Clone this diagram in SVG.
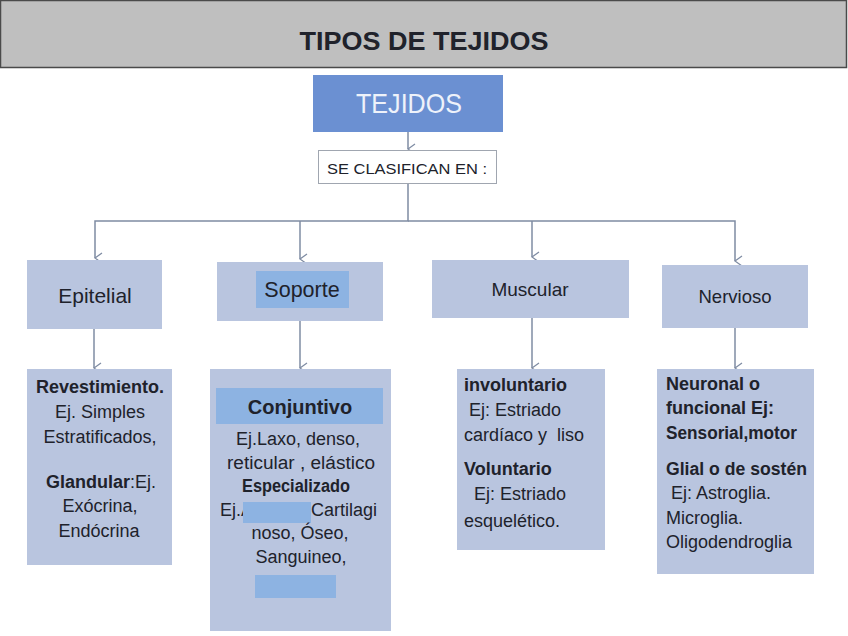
<svg xmlns="http://www.w3.org/2000/svg" width="848" height="636" viewBox="0 0 848 636">
<defs>
<marker id="arr" markerWidth="12" markerHeight="10" refX="6" refY="9" orient="auto" markerUnits="userSpaceOnUse" viewBox="0 0 12 10">
<path d="M1,2 L6,9 L11,2" fill="none" stroke="#7f8ca3" stroke-width="1.3"/>
</marker>
</defs>
<style>
.box{fill:#b9c5df;}
.t{font-family:"Liberation Sans",Arial,sans-serif;fill:#20222b;white-space:pre;}
.c{text-anchor:middle;}
.b{font-weight:bold;}
.r{font-size:18px;}
.bb{font-size:18px;font-weight:bold;}
.hl{fill:#8db3e2;}
.ln{fill:none;stroke:#7f8ca3;stroke-width:1.5;}
</style>
<rect width="848" height="636" fill="#ffffff"/>
<g id="header">
<rect x="0.5" y="0.5" width="846" height="67" fill="#bfbfbf" stroke="#4a4a4a" stroke-width="1.5"/>
<text x="424" y="50" class="t c b" font-size="26" fill="#000" textLength="249" lengthAdjust="spacingAndGlyphs">TIPOS DE TEJIDOS</text>
</g>
<g id="connectors">
<path class="ln" d="M408,132 V149" marker-end="url(#arr)"/>
<path class="ln" d="M408,183 V221 H95 V258" marker-end="url(#arr)"/>
<path class="ln" d="M300,221 V259" marker-end="url(#arr)"/>
<path class="ln" d="M408,221 H735 V261" marker-end="url(#arr)"/>
<path class="ln" d="M532,221 V257" marker-end="url(#arr)"/>
<path class="ln" d="M94,329 V368" marker-end="url(#arr)"/>
<path class="ln" d="M300,321 V368" marker-end="url(#arr)"/>
<path class="ln" d="M532,318 V368" marker-end="url(#arr)"/>
<path class="ln" d="M735,328 V368" marker-end="url(#arr)"/>
</g>
<g id="tejidos">
<rect x="313" y="75" width="190" height="57" fill="#6b90d2"/>
<text x="409" y="113" class="t c" font-size="28" style="fill:#eef2fa" textLength="106" lengthAdjust="spacingAndGlyphs">TEJIDOS</text>
</g>
<g id="clasifican">
<rect x="318.5" y="150.5" width="178" height="33" fill="#ffffff" stroke="#a0a6b0" stroke-width="1"/>
<text x="407" y="174" class="t c" font-size="15" textLength="160" lengthAdjust="spacingAndGlyphs">SE CLASIFICAN EN :</text>
</g>
<g id="epitelial">
<rect class="box" x="27" y="260" width="135" height="69"/>
<text x="95" y="303" class="t c" font-size="21">Epitelial</text>
</g>
<g id="soporte">
<rect class="box" x="217" y="262" width="166" height="59"/>
<rect class="hl" x="256" y="271" width="93" height="37"/>
<text x="302" y="297" class="t c" font-size="21.5">Soporte</text>
</g>
<g id="muscular">
<rect class="box" x="432" y="260" width="197" height="58"/>
<text x="530" y="296" class="t c" font-size="19">Muscular</text>
</g>
<g id="nervioso">
<rect class="box" x="662" y="265" width="146" height="63"/>
<text x="735" y="303" class="t c" font-size="18.5">Nervioso</text>
</g>
<g id="epitelial-detalle">
<rect class="box" x="27" y="369" width="145" height="196"/>
<text class="t c bb" x="100" y="393">Revestimiento.</text>
<text class="t c r" x="100" y="418">Ej. Simples</text>
<text class="t c r" x="100" y="443">Estratificados,</text>
<text class="t c r" x="101" y="488"><tspan class="bb">Glandular</tspan>:Ej.</text>
<text class="t c r" x="100" y="512">Exócrina,</text>
<text class="t c r" x="99" y="537">Endócrina</text>
</g>
<g id="soporte-detalle">
<rect class="box" x="210" y="369" width="181" height="262"/>
<rect class="hl" x="216" y="388" width="167" height="36"/>
<text class="t c b" font-size="20" x="300" y="414">Conjuntivo</text>
<text class="t c r" x="298" y="445">Ej.Laxo, denso,</text>
<text class="t c r" x="301" y="469" textLength="148" lengthAdjust="spacingAndGlyphs">reticular , elástico</text>
<text class="t c bb" x="296" y="492" textLength="108" lengthAdjust="spacingAndGlyphs">Especializado</text>
<text class="t r" x="220" y="516">Ej.A</text>
<text class="t r" x="311" y="516">Cartilagi</text>
<rect class="hl" x="243" y="502" width="68" height="21"/>
<text class="t c r" x="300" y="539">noso, Óseo,</text>
<text class="t c r" x="301" y="563">Sanguineo,</text>
<rect class="hl" x="255" y="575" width="81" height="23"/>
</g>
<g id="muscular-detalle">
<rect class="box" x="457" y="369" width="148" height="181"/>
<text class="t bb" x="464" y="391">involuntario</text>
<text class="t r" x="464" y="416"> Ej: Estriado</text>
<text class="t r" x="464" y="441">cardíaco y  liso</text>
<text class="t bb" x="464" y="475">Voluntario</text>
<text class="t r" x="464" y="500">  Ej: Estriado</text>
<text class="t r" x="464" y="527">esquelético.</text>
</g>
<g id="nervioso-detalle">
<rect class="box" x="657" y="369" width="157" height="205"/>
<text class="t bb" x="666" y="390">Neuronal o</text>
<text class="t bb" x="666" y="414">funcional Ej:</text>
<text class="t bb" x="666" y="439" textLength="131" lengthAdjust="spacingAndGlyphs">Sensorial,motor</text>
<text class="t bb" x="666" y="475" textLength="141" lengthAdjust="spacingAndGlyphs">Glial o de sostén</text>
<text class="t r" x="666" y="499"> Ej: Astroglia.</text>
<text class="t r" x="666" y="524">Microglia.</text>
<text class="t r" x="666" y="548">Oligodendroglia</text>
</g>
</svg>
